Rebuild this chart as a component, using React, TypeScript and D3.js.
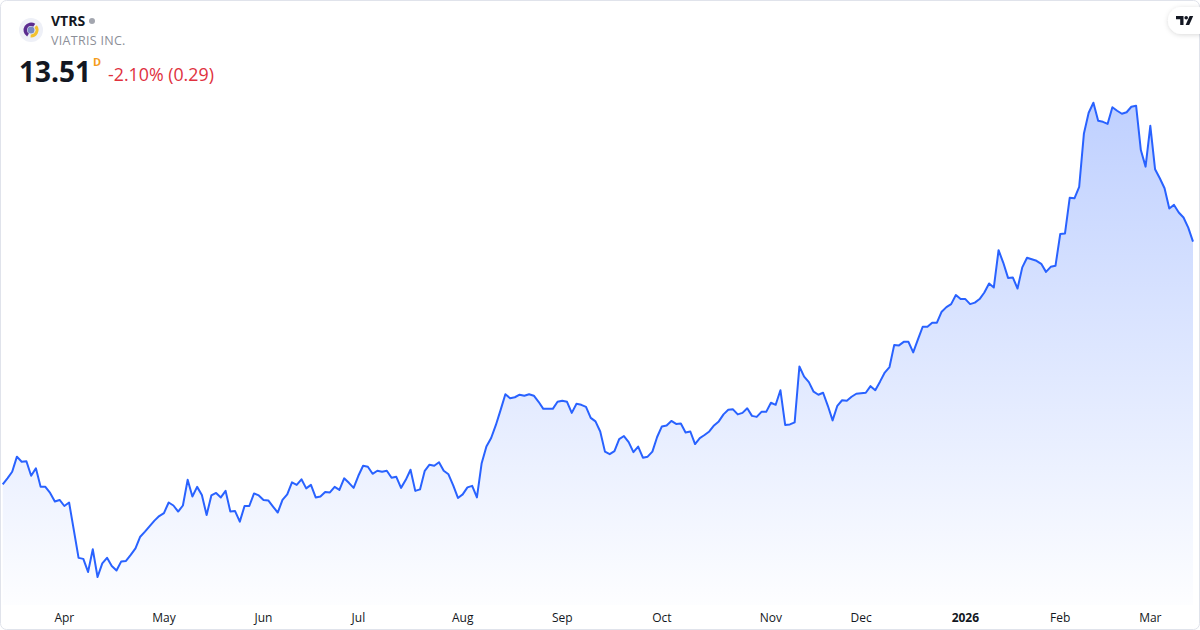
import { useEffect, useRef } from 'react';
import * as d3 from 'd3';

// daily closes, Mar 13 2025 -> Mar 13 2026
const prices: number[] = [
  8.69, 8.81, 8.94, 9.24, 9.14, 9.15, 8.86, 9.01, 8.64, 8.64,
  8.52, 8.35, 8.38, 8.26, 8.33, 7.78, 7.23, 7.21, 6.95, 7.40,
  6.85, 7.12, 7.23, 7.07, 6.98, 7.16, 7.17, 7.29, 7.42, 7.65,
  7.75, 7.86, 7.97, 8.06, 8.12, 8.33, 8.27, 8.15, 8.27, 8.78,
  8.45, 8.64,
  8.48, 8.08, 8.47, 8.52, 8.43, 8.56, 8.15, 8.16, 7.95, 8.26,
  8.26, 8.51, 8.47, 8.38, 8.37, 8.25, 8.13, 8.38, 8.49, 8.73,
  8.68, 8.79, 8.61, 8.68, 8.43, 8.45, 8.54, 8.53, 8.64, 8.58,
  8.81, 8.72, 8.62, 8.86, 9.06, 9.04, 8.90, 8.96, 8.94, 8.96,
  8.82, 8.84,
  8.62, 8.78, 8.98, 8.56, 8.59, 8.96, 9.08, 9.06, 9.13, 8.96,
  8.89, 8.67, 8.42, 8.49, 8.63, 8.66, 8.43, 9.11, 9.44, 9.61,
  9.87, 10.17, 10.48, 10.40, 10.42, 10.47, 10.45, 10.48, 10.45, 10.33,
  10.19, 10.19, 10.19, 10.33, 10.35, 10.33, 10.11, 10.29, 10.27, 10.23,
  10.01, 9.94,
  9.74, 9.34, 9.29, 9.35, 9.59, 9.65, 9.53, 9.33, 9.44, 9.22,
  9.24, 9.34, 9.63, 9.84, 9.86, 9.95, 9.89, 9.90, 9.72, 9.74,
  9.49, 9.61, 9.67, 9.74, 9.86, 9.94, 10.08, 10.17, 10.18, 10.08,
  10.11, 10.20, 10.05, 10.03, 10.13, 10.13, 10.31, 10.27, 10.56, 9.87,
  9.88, 9.92,
  11.03, 10.83, 10.72, 10.53, 10.47, 10.51, 10.25, 9.96, 10.25, 10.36,
  10.35, 10.43, 10.49, 10.50, 10.51, 10.64, 10.56, 10.73, 10.91, 11.02,
  11.46, 11.45, 11.52, 11.52, 11.31, 11.57, 11.82, 11.82, 11.90, 11.90,
  12.12, 12.21, 12.27, 12.45, 12.37, 12.37, 12.27, 12.30, 12.37, 12.50,
  12.68, 12.60,
  13.34, 13.09, 12.79, 12.80, 12.58, 13.00, 13.19, 13.16, 13.13, 13.07,
  12.91, 13.01, 13.03, 13.66, 13.67, 14.38, 14.37, 14.60, 15.66, 16.07,
  16.27, 15.91, 15.89, 15.85, 16.18, 16.11, 16.05, 16.08, 16.19, 16.21,
  15.33, 15.00, 15.81, 14.95, 14.77, 14.57, 14.17, 14.24, 14.09, 13.99,
  13.79, 13.51
];

// first trading day of each month (bar index) and its label
const tickIndex: number[] = [13, 34, 55, 75, 97, 118, 139, 162, 181, 203, 223, 242];
const tickLabels: string[] = ['Apr', 'May', 'Jun', 'Jul', 'Aug', 'Sep', 'Oct', 'Nov', 'Dec', '2026', 'Feb', 'Mar'];

const symbol = 'VTRS';
const companyName = 'VIATRIS INC.';
const lastPrice = '13.51';
const change = '-2.10% (0.29)';

export default function App() {
  const svgRef = useRef<SVGSVGElement>(null);

  useEffect(() => {
    if (!svgRef.current) return;
    d3.select(svgRef.current).selectAll('*').remove();

    const width = 1200;
    const height = 630;
    const font = '"Open Sans", "Noto Sans", sans-serif';

    const svg = d3.select(svgRef.current)
      .attr('width', width)
      .attr('height', height)
      .style('font-family', font);

    const defs = svg.append('defs');
    const grad = defs.append('linearGradient')
      .attr('id', 'areaGrad')
      .attr('gradientUnits', 'userSpaceOnUse')
      .attr('x1', 0).attr('x2', 0)
      .attr('y1', 100).attr('y2', 605);
    grad.append('stop').attr('offset', '0%').attr('stop-color', '#2962ff').attr('stop-opacity', 0.3);
    grad.append('stop').attr('offset', '100%').attr('stop-color', '#2962ff').attr('stop-opacity', 0.01);

    const shadow = defs.append('filter').attr('id', 'pillShadow')
      .attr('x', '-50%').attr('y', '-50%').attr('width', '200%').attr('height', '200%');
    shadow.append('feDropShadow')
      .attr('dx', 0).attr('dy', 1).attr('stdDeviation', 2.5)
      .attr('flood-color', '#000').attr('flood-opacity', 0.15);

    // background + frame
    svg.append('rect')
      .attr('x', 0.5).attr('y', 0.5)
      .attr('width', width - 1).attr('height', height - 1)
      .attr('rx', 6)
      .attr('fill', '#ffffff')
      .attr('stroke', '#e0e3eb');

    const x = d3.scaleLinear()
      .domain([0, prices.length - 1])
      .range([2.7, 1193]);

    const [minP, maxP] = d3.extent(prices) as [number, number];
    const y = d3.scaleLinear()
      .domain([minP, maxP])
      .range([577, 102.7]);

    const plotBottom = 605;

    const area = d3.area<number>()
      .x((_, i) => x(i))
      .y0(plotBottom)
      .y1(d => y(d));

    const line = d3.line<number>()
      .x((_, i) => x(i))
      .y(d => y(d));

    svg.append('path')
      .datum(prices)
      .attr('d', area)
      .attr('fill', 'url(#areaGrad)');

    svg.append('path')
      .datum(prices)
      .attr('d', line)
      .attr('fill', 'none')
      .attr('stroke', '#2962ff')
      .attr('stroke-width', 2)
      .attr('stroke-linejoin', 'round');

    // month labels
    svg.append('g')
      .selectAll('text')
      .data(tickIndex)
      .join('text')
      .attr('x', d => x(d))
      .attr('y', 622)
      .attr('text-anchor', 'middle')
      .style('font-size', '12px')
      .style('font-weight', (_, i) => tickLabels[i] === '2026' ? '700' : '400')
      .style('fill', '#131722')
      .text((_, i) => tickLabels[i]);

    // header: logo
    const logo = svg.append('g').attr('transform', 'translate(31,30)');
    logo.append('circle').attr('r', 12).attr('fill', '#eef0f7');
    const swirl = d3.arc<any>();
    logo.append('path')
      .attr('d', swirl({ innerRadius: 4, outerRadius: 7.5, startAngle: -2.6, endAngle: 0.6 }))
      .attr('fill', '#5b2c8f');
    logo.append('path')
      .attr('d', swirl({ innerRadius: 4.5, outerRadius: 7.5, startAngle: 0.9, endAngle: 3.2 }))
      .attr('fill', '#f2c230');
    logo.append('circle').attr('r', 3.5).attr('fill', '#7a8bc4');

    svg.append('text')
      .attr('x', 51).attr('y', 26)
      .style('font-size', '14px')
      .style('font-weight', '700')
      .style('fill', '#131722')
      .text(symbol);
    svg.append('circle')
      .attr('cx', 92).attr('cy', 21).attr('r', 3)
      .attr('fill', '#a3a6af');

    svg.append('text')
      .attr('x', 51).attr('y', 45)
      .style('font-size', '12.5px')
      .style('fill', '#8c8f98')
      .style('letter-spacing', '0.3px')
      .text(companyName);

    svg.append('text')
      .attr('x', 19).attr('y', 82)
      .style('font-size', '28px')
      .style('font-weight', '700')
      .style('fill', '#131722')
      .text(lastPrice);
    svg.append('text')
      .attr('x', 93).attr('y', 66)
      .style('font-size', '11px')
      .style('font-weight', '700')
      .style('fill', '#f59d1a')
      .text('D');
    svg.append('text')
      .attr('x', 108).attr('y', 81)
      .style('font-size', '17.8px')
      .style('fill', '#e0313e')
      .text(change);

    // TradingView badge
    const badge = svg.append('g');
    badge.append('rect')
      .attr('x', 1168).attr('y', 7)
      .attr('width', 44).attr('height', 27)
      .attr('rx', 13.5)
      .attr('fill', '#ffffff')
      .attr('filter', 'url(#pillShadow)');
    badge.append('path')
      .attr('d', 'M1176 16h7.5v9h-3.3v-5.8h-4.2z')
      .attr('fill', '#131722');
    badge.append('circle')
      .attr('cx', 1186.2).attr('cy', 17.8).attr('r', 1.8)
      .attr('fill', '#131722');
    badge.append('path')
      .attr('d', 'M1189.6 16h3.6l-4 9h-3.6z')
      .attr('fill', '#131722');
  }, []);

  return (
    <div style={{ position: 'fixed', left: 0, top: 0, width: 1200, height: 630, background: '#fff' }}>
      <svg ref={svgRef} style={{ display: 'block' }}></svg>
    </div>
  );
}
